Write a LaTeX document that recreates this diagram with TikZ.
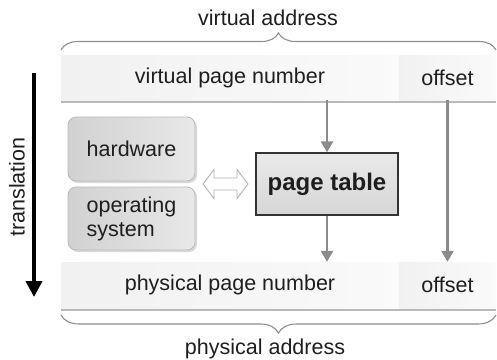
\documentclass[tikz,border=0pt]{standalone}
\usepackage{fontspec}
\setmainfont{Liberation Sans}
\usetikzlibrary{arrows.meta,decorations.pathreplacing,shadows}
\definecolor{arrowgray}{HTML}{8A8A8A}
\definecolor{bracegray}{HTML}{8E8E8E}
\definecolor{txtcol}{HTML}{1E1E1E}
\begin{document}
\begin{tikzpicture}[x=1pt,y=-1pt,
  font=\fontsize{21.5}{24}\selectfont, text=txtcol,
  barseg/.style={inner sep=0pt, minimum height=45pt, left color=gray!11, right color=gray!4, draw=none,
    drop shadow={shadow xshift=0pt, shadow yshift=-2.5pt, opacity=0.55, fill=gray}},
  osbox/.style={rounded corners=8pt, draw=gray!55, line width=0.8pt, left color=gray!36, right color=gray!18,
    inner sep=0pt, minimum width=127pt,
    drop shadow={shadow xshift=2pt, shadow yshift=-2pt, opacity=0.3, fill=gray}},
  ptbox/.style={draw=black!80, line width=1.3pt, top color=gray!17, bottom color=gray!32, inner sep=0pt,
    font=\fontsize{24}{26}\selectfont\bfseries},
  grayarrow/.style={draw=arrowgray, line width=2.6pt, -{Triangle[width=12pt,length=11pt]}},
  bracedraw/.style={draw=bracegray, line width=1.1pt, decorate},
  dblarrow/.style={draw=gray!60, line width=0.9pt, fill=white, line join=miter}
]
\useasboundingbox (0,0) rectangle (497,359);

% address bars
\node[barseg, minimum width=338pt] (vpn) at (230,77.5) {virtual page number};
\node[barseg, minimum width=97pt] (voff) at (447.5,77.5) {offset};
\node[barseg, minimum width=338pt, minimum height=46pt] (ppn) at (230,285) {physical page number};
\node[barseg, minimum width=97pt, minimum height=46pt] (poff) at (447.5,285) {offset};

% boxes
\node[osbox, minimum height=64pt] (hw) at (131.5,149) {hardware};
\node[osbox, minimum height=63pt, align=left] (os) at (131.5,218.5) {operating\\system};
\node[ptbox, minimum width=142pt, minimum height=62pt] (pt) at (327,184) {page table};

% double arrow
\draw[dblarrow] (203,184) -- (214,169.5) -- (214,178) -- (237,178) -- (237,169.5) -- (248,184)
  -- (237,198.5) -- (237,190) -- (214,190) -- (214,198.5) -- cycle;

% connectors
\draw[grayarrow] (pt.north |- vpn.south) -- (pt.north);
\draw[grayarrow] (pt.south) -- (pt.south |- ppn.north);
\draw[grayarrow] (voff.south) -- (poff.north);

% translation arrow
\coordinate (tA) at (34,73);
\coordinate (tB) at (34,297);
\draw[line width=4.5pt, -{Triangle[width=16pt,length=16pt]}] (tA) -- (tB);
\node[rotate=90] (tl) at (17,187) {translation};

% braces
\draw[bracedraw, decoration={brace, amplitude=17pt}] (61,50) -- (496,50);
\draw[bracedraw, decoration={brace, amplitude=18pt}] (496,315) -- (61,315);
\node[anchor=base] (va) at (268,25) {virtual address};
\node[anchor=base] (pa) at (265,354) {physical address};
\end{tikzpicture}
\end{document}
